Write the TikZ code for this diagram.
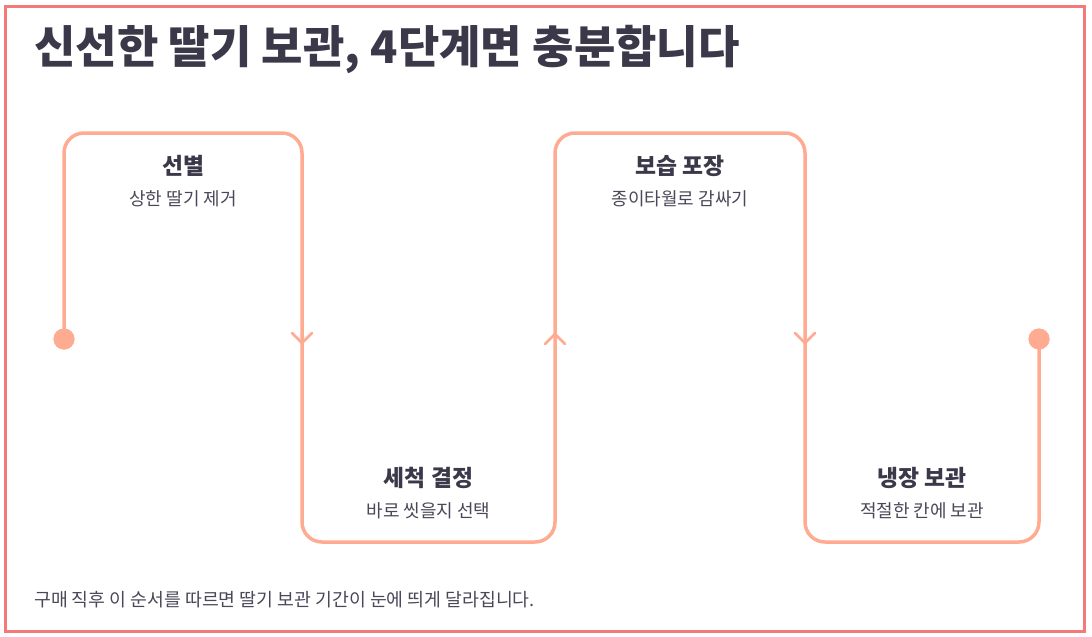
\documentclass[tikz,border=0pt]{standalone}
\usepackage{fontspec}
\newfontfamily\kr{Noto Sans CJK KR}
\definecolor{linec}{HTML}{FFAB91}
\definecolor{borderc}{HTML}{F47A7A}
\definecolor{ink}{HTML}{3A3849}
\definecolor{subink}{HTML}{4A4858}
\tikzset{
  flow/.style={draw=linec, line width=3.5pt, rounded corners=20pt},
  chev/.style={draw=linec, line width=2.5pt, line cap=round, line join=round},
  dotnode/.style={circle, fill=linec, minimum size=21pt, inner sep=0pt},
  steptitle/.style={font=\kr\bfseries\fontsize{22.8}{26}\selectfont, text=ink, inner sep=0pt},
  stepsub/.style={font=\kr\fontsize{18}{22}\selectfont, text=subink, inner sep=0pt},
}
\begin{document}
\begin{tikzpicture}[x=1pt,y=-1pt]
\useasboundingbox (0,0) rectangle (1092,637);
\draw[borderc, line width=3pt] (5.5,6.5) rectangle (1084.5,631);

\node[anchor=base west, inner sep=0pt, font=\kr\bfseries\fontsize{45}{54}\selectfont, text=ink] (title) at (34,63) {신선한 딸기 보관, 4단계면 충분합니다};

\coordinate (c1) at (64,133);
\coordinate (c2) at (302,133);
\coordinate (c3) at (302,542);
\coordinate (c4) at (555,542);
\coordinate (c5) at (555,133);
\coordinate (c6) at (805,133);
\coordinate (c7) at (805,542);
\coordinate (c8) at (1039,542);
\node[dotnode] (s) at (64,339) {};
\node[dotnode] (e) at (1039,339) {};

\draw[flow] (s.center) -- (c1) -- (c2) -- (c3) -- (c4) -- (c5) -- (c6) -- (c7) -- (c8) -- (e.center);
\node[dotnode] at (s) {};
\node[dotnode] at (e) {};

\coordinate (a1) at (302,343);
\coordinate (a2) at (555,334);
\coordinate (a3) at (805,343);
\draw[chev] (a1) ++(-10,-10) -- (a1) -- ++(10,-10);
\draw[chev] (a2) ++(-10,10) -- (a2) -- ++(10,10);
\draw[chev] (a3) ++(-10,-10) -- (a3) -- ++(10,-10);

\node[steptitle] (t1) at (183,166) {선별};
\node[stepsub] (s1) at (183,199) {상한 딸기 제거};
\node[steptitle] (t2) at (428.5,478) {세척 결정};
\node[stepsub] (s2) at (428.5,511) {바로 씻을지 선택};
\node[steptitle] (t3) at (680,166) {보습 포장};
\node[stepsub] (s3) at (680,199) {종이타월로 감싸기};
\node[steptitle] (t4) at (922,478) {냉장 보관};
\node[stepsub] (s4) at (922,511) {적절한 칸에 보관};

\node[anchor=base west, inner sep=0pt, font=\kr\fontsize{18.3}{22}\selectfont, text=subink] (foot) at (34,606) {구매 직후 이 순서를 따르면 딸기 보관 기간이 눈에 띄게 달라집니다.};
\end{tikzpicture}
\end{document}
